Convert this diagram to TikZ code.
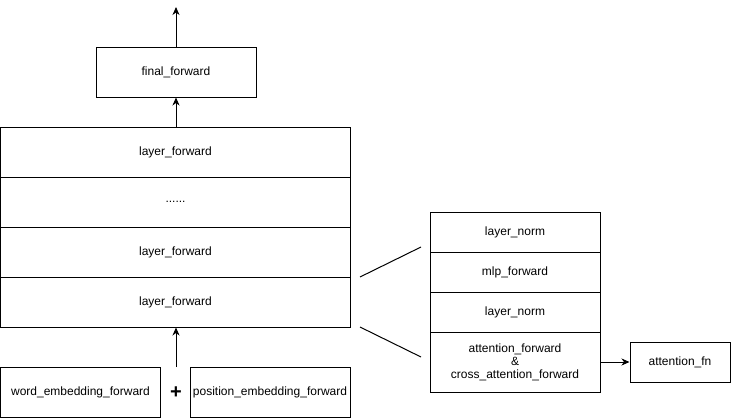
\documentclass[tikz,border=0pt]{standalone}
\usepackage{fontspec}
\setmainfont{Liberation Sans}
\usetikzlibrary{arrows.meta}
\begin{document}
\begin{tikzpicture}[x=1pt,y=-1pt,
  box/.style={draw=black,line width=1pt,inner sep=0pt,font=\fontsize{12}{14}\selectfont,align=center},
  arr/.style={line width=1pt,-{Stealth[length=8pt,width=7pt,inset=2.5pt]}},
  ln/.style={line width=1pt}]
\useasboundingbox (0,0) rectangle (731,418);
% left column
\node[box,minimum width=160,minimum height=50] (final) at (176,72) {final\_forward};
\coordinate (top) at (176,7);
\node[box,minimum width=350,minimum height=50] (l1) at (175.5,152) {layer\_forward};
\node[box,minimum width=350,minimum height=50] (l2) at (175.5,202) {......};
\node[box,minimum width=350,minimum height=50] (l3) at (175.5,252) {layer\_forward};
\node[box,minimum width=350,minimum height=50] (l4) at (175.5,302) {layer\_forward};
\node[box,minimum width=160,minimum height=50] (we) at (80.5,392) {word\_embedding\_forward};
\node[box,minimum width=160,minimum height=50] (pe) at (270,392) {position\_embedding\_forward};
\node[inner sep=0pt,font=\fontsize{20}{20}\selectfont\bfseries] (plus) at (176,393) {+};
\coordinate (emb) at (176,367);
\draw[arr] (final.north) -- (top);
\draw[arr] (l1.north -| final.south) -- (final.south);
\draw[arr] (emb) -- (emb |- l4.south);
% right stack
\node[box,minimum width=170,minimum height=40] (n1) at (515,232) {layer\_norm};
\node[box,minimum width=170,minimum height=40] (mlp) at (515,272) {mlp\_forward};
\node[box,minimum width=170,minimum height=40] (n2) at (515,312) {layer\_norm};
\node[box,minimum width=170,minimum height=60] (att) at (515,362) {attention\_forward\\[-1pt]\&\\[-1pt]cross\_attention\_forward};
\node[box,minimum width=100,minimum height=40] (fn) at (680,362) {attention\_fn};
\draw[arr] (att.east) -- (fn.west);
% zoom lines
\coordinate (a1) at (360,277);
\coordinate (b1) at (421,247);
\coordinate (a2) at (360,327);
\coordinate (b2) at (421,357);
\draw[ln] (a1) -- (b1);
\draw[ln] (a2) -- (b2);
\end{tikzpicture}
\end{document}
